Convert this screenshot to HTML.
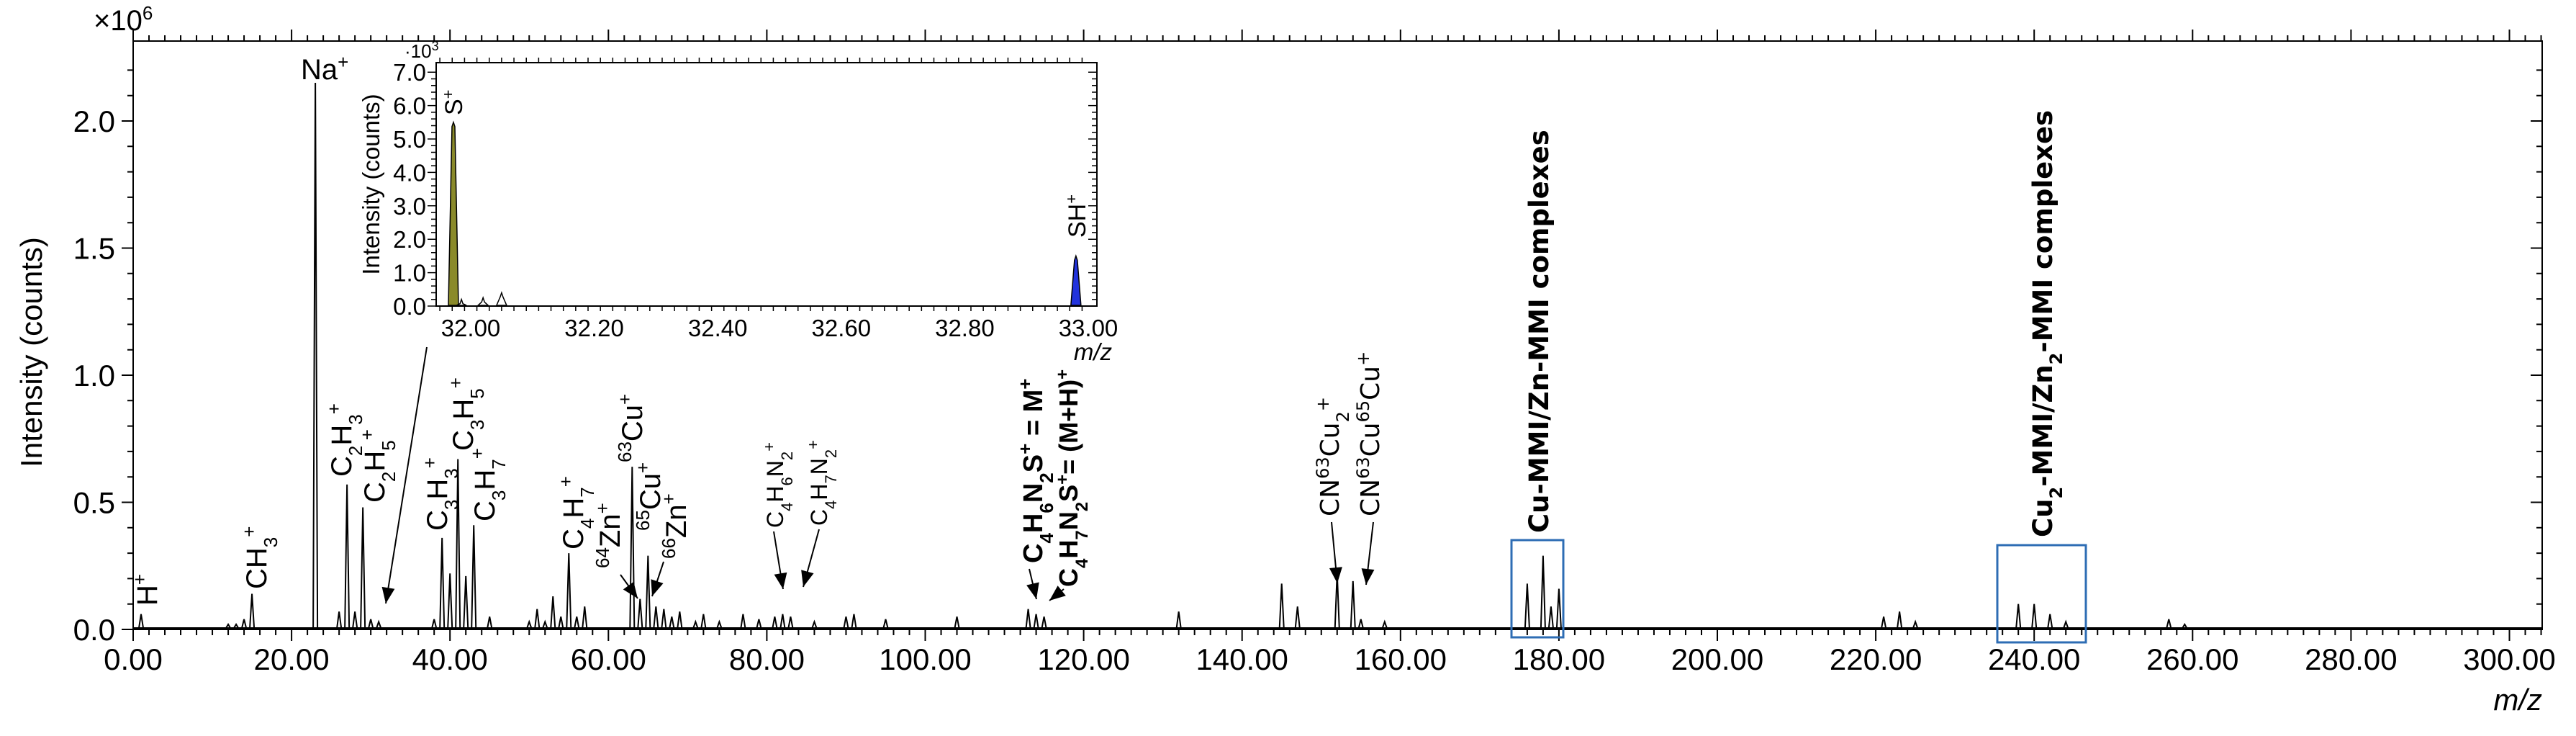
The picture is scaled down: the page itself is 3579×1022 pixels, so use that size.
<!DOCTYPE html>
<html><head><meta charset="utf-8"><style>
html,body{margin:0;padding:0;background:#fff}
svg{display:block;font-family:"Liberation Sans",Arial,sans-serif}
</style></head><body>
<svg id="chart" width="3579" height="1022" viewBox="0 0 3579 1022">
<g id="main"></g>
<g id="labels" font-size="40" fill="#000">
 <text x="418" y="110">Na<tspan baseline-shift="super" font-size="26">+</tspan></text>
 <text transform="translate(218,841) rotate(-90)">H<tspan baseline-shift="super" font-size="26">+</tspan></text>
 <text transform="translate(370,818) rotate(-90)">CH<tspan baseline-shift="sub" font-size="26">3</tspan><tspan baseline-shift="super" font-size="26">+</tspan></text>
 <text transform="translate(488,662) rotate(-90)">C<tspan baseline-shift="sub" font-size="26">2</tspan>H<tspan baseline-shift="sub" font-size="26">3</tspan><tspan baseline-shift="super" font-size="26">+</tspan></text>
 <text transform="translate(534,698) rotate(-90)">C<tspan baseline-shift="sub" font-size="26">2</tspan>H<tspan baseline-shift="sub" font-size="26">5</tspan><tspan baseline-shift="super" font-size="26">+</tspan></text>
 <text transform="translate(621,737) rotate(-90)">C<tspan baseline-shift="sub" font-size="26">3</tspan>H<tspan baseline-shift="sub" font-size="26">3</tspan><tspan baseline-shift="super" font-size="26">+</tspan></text>
 <text transform="translate(657,626) rotate(-90)">C<tspan baseline-shift="sub" font-size="26">3</tspan>H<tspan baseline-shift="sub" font-size="26">5</tspan><tspan baseline-shift="super" font-size="26">+</tspan></text>
 <text transform="translate(687,724) rotate(-90)">C<tspan baseline-shift="sub" font-size="26">3</tspan>H<tspan baseline-shift="sub" font-size="26">7</tspan><tspan baseline-shift="super" font-size="26">+</tspan></text>
 <text transform="translate(810,763) rotate(-90)">C<tspan baseline-shift="sub" font-size="26">4</tspan>H<tspan baseline-shift="sub" font-size="26">7</tspan><tspan baseline-shift="super" font-size="26">+</tspan></text>
 <text transform="translate(892,642) rotate(-90)"><tspan baseline-shift="super" font-size="26">63</tspan>Cu<tspan baseline-shift="super" font-size="26">+</tspan></text>
 <text transform="translate(861,789) rotate(-90)"><tspan baseline-shift="super" font-size="26">64</tspan>Zn<tspan baseline-shift="super" font-size="26">+</tspan></text>
 <text transform="translate(917,737) rotate(-90)"><tspan baseline-shift="super" font-size="26">65</tspan>Cu<tspan baseline-shift="super" font-size="26">+</tspan></text>
 <text transform="translate(953,776) rotate(-90)"><tspan baseline-shift="super" font-size="26">66</tspan>Zn<tspan baseline-shift="super" font-size="26">+</tspan></text>
 <text font-size="32" transform="translate(1088,733) rotate(-90)">C<tspan baseline-shift="sub" font-size="22">4</tspan>H<tspan baseline-shift="sub" font-size="22">6</tspan>N<tspan baseline-shift="sub" font-size="22">2</tspan><tspan baseline-shift="super" font-size="22">+</tspan></text>
 <text font-size="32" transform="translate(1149,730) rotate(-90)">C<tspan baseline-shift="sub" font-size="22">4</tspan>H<tspan baseline-shift="sub" font-size="22">7</tspan>N<tspan baseline-shift="sub" font-size="22">2</tspan><tspan baseline-shift="super" font-size="22">+</tspan></text>
 <text font-weight="bold" font-size="38" transform="translate(1448,782) rotate(-90)">C<tspan baseline-shift="sub" font-size="26">4</tspan>H<tspan baseline-shift="sub" font-size="26">6</tspan>N<tspan baseline-shift="sub" font-size="26">2</tspan>S<tspan baseline-shift="super" font-size="26">+</tspan> = M<tspan baseline-shift="super" font-size="26">+</tspan></text>
 <text font-weight="bold" font-size="36" transform="translate(1497,815) rotate(-90)">C<tspan baseline-shift="sub" font-size="24">4</tspan>H<tspan baseline-shift="sub" font-size="24">7</tspan>N<tspan baseline-shift="sub" font-size="24">2</tspan>S<tspan baseline-shift="super" font-size="24">+</tspan>= (M+H)<tspan baseline-shift="super" font-size="24">+</tspan></text>
 <text font-size="36" font-family="DejaVu Sans, sans-serif" transform="translate(1860,717) rotate(-90)">CN<tspan baseline-shift="super" font-size="24">63</tspan>Cu<tspan baseline-shift="sub" font-size="24">2</tspan><tspan baseline-shift="super" font-size="24">+</tspan></text>
 <text font-size="36" font-family="DejaVu Sans, sans-serif" transform="translate(1916,717) rotate(-90)">CN<tspan baseline-shift="super" font-size="24">63</tspan>Cu<tspan baseline-shift="super" font-size="24">65</tspan>Cu<tspan baseline-shift="super" font-size="24">+</tspan></text>
 <text font-weight="bold" font-size="37" font-family="DejaVu Sans, sans-serif" transform="translate(2151,740) rotate(-90)">Cu-MMI/Zn-MMI complexes</text>
 <text font-weight="bold" font-size="37" font-family="DejaVu Sans, sans-serif" transform="translate(2851,746) rotate(-90)">Cu<tspan baseline-shift="sub" font-size="24">2</tspan>-MMI/Zn<tspan baseline-shift="sub" font-size="24">2</tspan>-MMI complexes</text>
</g>
<g id="arrows" stroke="#000" stroke-width="2"></g>
<g id="inset"></g>
</svg>
<script>
const NS='http://www.w3.org/2000/svg';
// main spectrum data (m/z, intensity in 10^6 counts)
const peakMz=[1,12,13,14,15,23,26,27,28,29,30,31,38,39,40,41,42,43,45,50,51,52,53,54,55,56,57,63,64,65,66,67,68,69,71,72,74,77,79,81,82,83,86,90,91,95,104,113,114,115,132,145,147,152,154,155,158,176,178,179,180,221,223,225,238,240,242,244,257,259];
const peakInt=[0.06,0.02,0.02,0.04,0.14,2.15,0.07,0.57,0.07,0.48,0.04,0.03,0.04,0.36,0.22,0.67,0.21,0.41,0.05,0.03,0.08,0.03,0.13,0.05,0.30,0.05,0.09,0.64,0.12,0.29,0.09,0.08,0.05,0.07,0.03,0.06,0.03,0.06,0.04,0.05,0.06,0.05,0.03,0.05,0.06,0.04,0.05,0.08,0.06,0.05,0.07,0.18,0.09,0.22,0.19,0.04,0.03,0.18,0.29,0.09,0.16,0.05,0.07,0.03,0.10,0.10,0.06,0.03,0.04,0.02];
const xTicks=[0,20,40,60,80,100,120,140,160,180,200,220,240,260,280,300];
const yTicks=[0,0.5,1.0,1.5,2.0];
// inset data (m/z, intensity in 10^3 counts)
const insetMz=[31.972,31.985,32.02,32.05,32.98];
const insetInt=[5.5,0.2,0.25,0.4,1.5];
const insetFill=['#8a8a2a','none','none','none','#2233dd'];
const insetXTicks=[32.0,32.2,32.4,32.6,32.8,33.0];
const insetYTicks=[0,1,2,3,4,5,6,7];

const L=185,R=3532,T=57,B=874;
const X=v=>185+v*11.005;
const Y=v=>874-v*353;
const main=document.getElementById('main');
function el(tag,attrs,parent){const e=document.createElementNS(NS,tag);for(const k in attrs)e.setAttribute(k,attrs[k]);(parent||main).appendChild(e);return e;}

let frame=el('rect',{x:L,y:T,width:R-L,height:B-T,fill:'none',stroke:'#000','stroke-width':2});


let tk='';
for(let v=0;v<=304;v+=2){const x=X(v);const len=(v%20===0)?16:8;tk+=`M${x},${B}v${len}M${x},${T}v-${len}`;}
for(let v=0;v<=2.3;v+=0.1){const y=Y(v);const big=Math.abs(v*2-Math.round(v*2))<1e-6;tk+=`M${L},${y}h-${big?16:8}M${R},${y}h-${big?16:8}`;}
let tp=el('path',{d:tk,stroke:'#000','stroke-width':2,fill:'none'});


xTicks.forEach(v=>{let t=el('text',{x:X(v),y:B+56,'font-size':42,'text-anchor':'middle'});t.textContent=v.toFixed(2);

});
yTicks.forEach(v=>{let t=el('text',{x:160,y:Y(v)+15,'font-size':42,'text-anchor':'end'});t.textContent=v.toFixed(1);

});
let yt=el('text',{transform:'translate(58,489) rotate(-90)','font-size':42,'text-anchor':'middle'});yt.textContent='Intensity (counts)';


let mult=el('text',{x:130,y:42,'font-size':40});mult.innerHTML='×10<tspan baseline-shift="super" font-size="26">6</tspan>';


let xt=el('text',{x:3532,y:986,'font-size':42,'font-style':'italic','text-anchor':'end'});xt.textContent='m/z';


let bl=el('line',{x1:L,y1:B-2,x2:R,y2:B-2,stroke:'#000','stroke-width':2});


peakMz.forEach((m,i)=>{const x=X(m),y=Y(peakInt[i]);
 let p=el('path',{d:`M${x-3},${B-2}L${x},${y}L${x+3},${B-2}`,stroke:'#000','stroke-width':2,fill:'none'});
 
 });
[[2100,750,72,135],[2775,757,123,135]].forEach((b,i)=>{let r=el('rect',{x:b[0],y:b[1],width:b[2],height:b[3],fill:'none',stroke:'#2e6db4','stroke-width':3});
 
 });
const arrows=document.getElementById('arrows');
[[593,482,536,838],[862,798,886,831],[922,780,906,828],[1075,738,1088,818],[1138,735,1116,815],[1430,790,1440,832],[1478,818,1458,834],[1850,725,1858,810],[1908,725,1898,812]].forEach(a=>{
 const ln=el('line',{x1:a[0],y1:a[1],x2:a[2],y2:a[3]},arrows);
 
 
 const ang=Math.atan2(a[3]-a[1],a[2]-a[0]);const s=22,w=9;
 const bx=a[2]-s*Math.cos(ang),by=a[3]-s*Math.sin(ang);
 const hd=el('polygon',{points:`${a[2]},${a[3]} ${bx+w*Math.sin(ang)},${by-w*Math.cos(ang)} ${bx-w*Math.sin(ang)},${by+w*Math.cos(ang)}`,fill:'#000',stroke:'none'},arrows);
 
 });
const ins=document.getElementById('inset');


const IL=606,IR=1524,IT=87,IB=425;
const IX=v=>654+(v-32)*858;
const IY=v=>425-v*46.4;
let bg=el('rect',{x:IL,y:IT,width:IR-IL,height:IB-IT,fill:'#fff',stroke:'#000','stroke-width':2},ins);


let it='';
for(let v=31.95;v<=33.01;v+=0.02){const x=IX(v);const big=Math.abs(v*10-Math.round(v*10))<1e-6&&Math.round(v*10)%2===0;it+=`M${x},${IB}v${big?12:7}M${x},${IT}v-${big?12:7}`;}
for(let v=0;v<=7.2;v+=0.2){const y=IY(v);const big=Math.abs(v-Math.round(v))<1e-6;it+=`M${IL},${y}h-${big?12:7}M${IR},${y}h-${big?12:7}`;}
let itp=el('path',{d:it,stroke:'#000','stroke-width':1.5,fill:'none'},ins);


insetXTicks.forEach(v=>{let t=el('text',{x:IX(v),y:IB+42,'font-size':33,'text-anchor':'middle'},ins);t.textContent=v.toFixed(2);

});
insetYTicks.forEach(v=>{let t=el('text',{x:592,y:IY(v)+12,'font-size':33,'text-anchor':'end'},ins);t.textContent=v.toFixed(1);

});
let iyt=el('text',{transform:'translate(527,256) rotate(-90)','font-size':33,'text-anchor':'middle'},ins);iyt.textContent='Intensity (counts)';


let im=el('text',{x:562,y:80,'font-size':26},ins);im.innerHTML='·10<tspan baseline-shift="super" font-size="18">3</tspan>';


let ixt=el('text',{x:1545,y:500,'font-size':33,'font-style':'italic','text-anchor':'end'},ins);ixt.textContent='m/z';


insetMz.forEach((m,i)=>{const x=IX(m),y=IY(insetInt[i]);
 const p=el('path',{d:`M${x-7},${IB-1}L${x-2},${y+6}L${x},${y}L${x+2},${y+6}L${x+7},${IB-1}Z`,fill:insetFill[i],stroke:'#000','stroke-width':1.5},ins);
 
 });
let sl=el('text',{transform:'translate(642,160) rotate(-90)','font-size':34},ins);sl.innerHTML='S<tspan baseline-shift="super" font-size="22">+</tspan>';


let shl=el('text',{transform:'translate(1508,330) rotate(-90)','font-size':34},ins);shl.innerHTML='SH<tspan baseline-shift="super" font-size="22">+</tspan>';


</script>
</body></html>
